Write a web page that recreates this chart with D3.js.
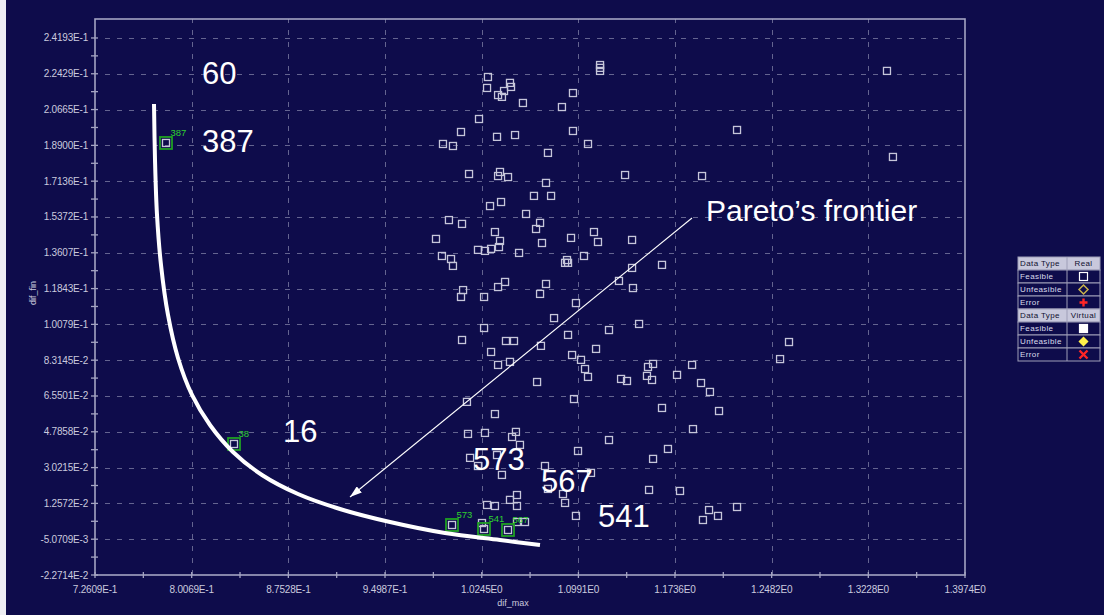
<!DOCTYPE html>
<html>
<head>
<meta charset="utf-8">
<script src="https://cdn.jsdelivr.net/npm/d3@7"></script>
<style>
  html, body { margin: 0; padding: 0; background: #0e0c4b; overflow: hidden; }
  svg { display: block; }
</style>
</head>
<body>
<svg id="chart" width="1104" height="615"></svg>
<script>
// ---- axis tick labels (values are parsed from the labels) ----
const xTickLabels = ["7.2609E-1", "8.0069E-1", "8.7528E-1", "9.4987E-1", "1.0245E0",
                     "1.0991E0", "1.1736E0", "1.2482E0", "1.3228E0", "1.3974E0"];
const yTickLabels = ["-2.2714E-2", "-5.0709E-3", "1.2572E-2", "3.0215E-2", "4.7858E-2",
                     "6.5501E-2", "8.3145E-2", "1.0079E-1", "1.1843E-1", "1.3607E-1",
                     "1.5372E-1", "1.7136E-1", "1.8900E-1", "2.0665E-1", "2.2429E-1", "2.4193E-1"];
const xTitle = "dif_max";
const yTitle = "dif_fin";

// ---- feasible design points (dif_max, dif_fin) ----
const feasibleX = [
  1.3372, 1.3418, 1.1158, 1.1158, 1.1158, 1.2215, 1.0293, 1.0286, 1.0463, 1.0471,
  1.0417, 1.0371, 1.0401, 1.0563, 1.0949, 1.0864, 1.0224, 1.0085, 1.0363, 1.0502,
  1.0949, 0.9946, 1.0023, 1.1065, 1.0756, 1.0147, 1.0386, 1.0371, 1.0448, 1.0741,
  1.0648, 1.0780, 1.0309, 1.0394, 1.0587, 0.9992, 1.0093, 1.0695, 1.0664, 1.0347,
  1.0386, 1.0710, 1.0934, 1.1111, 1.1142, 0.9892, 1.0216, 1.0270, 1.0317, 1.0378,
  1.0533, 0.9938, 1.0008, 1.1034, 1.0903, 1.1351, 1.1945, 1.0888, 1.0911, 1.1405,
  1.1636, 1.1304, 1.1412, 1.0972, 1.1459, 1.1227, 1.0911, 1.1127, 1.2616, 1.2547,
  1.0942, 1.1011, 1.1042, 1.1065, 1.1528, 1.1567, 1.1520, 1.1559, 1.1320, 1.1366,
  1.1868, 1.1752, 1.1937, 1.2006, 1.2076, 1.0957, 1.1636, 1.1875, 1.1227, 1.1682,
  1.1567, 1.1088, 1.1536, 1.1775, 1.1952, 1.1999, 1.2068, 1.2215, 1.0023, 1.0101,
  1.0085, 1.0263, 1.0371, 1.0425, 1.0741, 1.0695, 1.0263, 1.0093, 1.0432, 1.0494,
  1.0317, 1.0702, 1.0803, 1.0371, 1.0463, 1.0672, 1.0131, 1.0347, 1.0270, 1.0139,
  1.0479, 1.0509, 1.0540, 1.0363, 1.0155, 1.0216, 1.0401, 1.0733, 1.0756, 1.0286,
  1.0347, 1.0463, 1.0517, 1.0517, 1.0872, 1.0888, 1.0972, 1.0247, 1.0517, 1.0579,
  1.0988, 1.1405
];
const feasibleY = [
  0.2257, 0.1833, 0.2286, 0.2272, 0.2257, 0.1966, 0.2227, 0.2173, 0.2198, 0.2178,
  0.2158, 0.2138, 0.2129, 0.2099, 0.2148, 0.2079, 0.2020, 0.1956, 0.1932, 0.1941,
  0.1961, 0.1897, 0.1887, 0.1897, 0.1853, 0.1749, 0.1759, 0.1739, 0.1734, 0.1705,
  0.1641, 0.1641, 0.1591, 0.1611, 0.1552, 0.1522, 0.1503, 0.1508, 0.1478, 0.1463,
  0.1419, 0.1409, 0.1434, 0.1463, 0.1414, 0.1429, 0.1375, 0.1370, 0.1380, 0.1389,
  0.1360, 0.1345, 0.1330, 0.1345, 0.1325, 0.1744, 0.1739, 0.1311, 0.1311, 0.1286,
  0.1301, 0.1222, 0.1187, 0.1113, 0.1010, 0.0980, 0.0956, 0.0887, 0.0921, 0.0837,
  0.0857, 0.0833, 0.0788, 0.0749, 0.0798, 0.0813, 0.0754, 0.0734, 0.0739, 0.0729,
  0.0808, 0.0759, 0.0719, 0.0675, 0.0581, 0.0640, 0.0596, 0.0492, 0.0438, 0.0394,
  0.0345, 0.0276, 0.0192, 0.0187, 0.0044, 0.0093, 0.0064, 0.0108, 0.1296, 0.1177,
  0.1143, 0.1143, 0.1192, 0.1217, 0.1207, 0.1158, 0.0990, 0.0931, 0.0926, 0.0926,
  0.0872, 0.0902, 0.1039, 0.0808, 0.0823, 0.0724, 0.0626, 0.0566, 0.0473, 0.0468,
  0.0453, 0.0478, 0.0414, 0.0364, 0.0350, 0.0310, 0.0266, 0.0310, 0.0197, 0.0118,
  0.0113, 0.0143, 0.0167, 0.0113, 0.0172, 0.0128, 0.0064, 0.0029, 0.0034, 0.0034,
  0.0384, 0.1424
];

// ---- selected (non-dominated) designs with their ids ----
const selectedIds = ["387", "38", "573", "541", "567"];
const selectedX   = [0.78088, 0.83335, 1.00156, 1.02625, 1.04477];
const selectedY   = [0.19019, 0.04185, 0.00193, -0.00004, -0.00053];

// ---- hand-drawn Pareto frontier ----
const frontierX = [0.77162, 0.77239, 0.77393, 0.77702, 0.78242, 0.79013, 0.80094, 0.81483,
                   0.83257, 0.85495, 0.88273, 0.91514, 0.95372, 0.99616, 1.03860, 1.06946];
const frontierY = [0.20941, 0.18181, 0.15471, 0.13006, 0.10542, 0.08423, 0.06600, 0.05121,
                   0.03791, 0.02657, 0.01721, 0.00982, 0.00341, -0.00201, -0.00546, -0.00793];

// ---- annotations ----
const noteText = ["60", "387", "16", "573", "567", "541"];
const noteX    = [0.80865, 0.80865, 0.87115, 1.01776, 1.07023, 1.11421];
const noteY    = [0.21926, 0.18575, 0.04283, 0.02903, 0.01819, 0.00094];
const frontierLabel  = "Pareto\u2019s frontier";
const frontierLabelX = 1.19755;
const frontierLabelY = 0.15175;
const arrowX = [1.18675, 0.92285];
const arrowY = [0.15323, 0.01573];

// ---- legend ----
const legendGroups = ["Real", "Virtual"];
const legendStates = ["Feasible", "Unfeasible", "Error"];

// =====================================================================
const W = 1104, H = 615;
const FONT = "'Liberation Sans', Arial, Helvetica, sans-serif";
const BG = "#0e0c4b";
const AXIS = "#a4a4c2";
const TEXT = "#cacade";

const svg = d3.select("#chart");
svg.append("rect").attr("width", W).attr("height", H).attr("fill", BG);
svg.append("rect").attr("width", 6).attr("height", H).attr("fill", "#eeeef3");

const xTickValues = xTickLabels.map(Number);
const yTickValues = yTickLabels.map(Number);
const yStep = yTickValues[1] - yTickValues[0];

const x = d3.scaleLinear()
  .domain([xTickValues[0], xTickValues[xTickValues.length - 1]])
  .range([95, 965]);
const y = d3.scaleLinear()
  .domain([yTickValues[0], yTickValues[yTickValues.length - 1] + yStep * 0.53])
  .range([575, 19]);

const [x0, x1] = x.range();
const [y0, y1] = y.range();

// grid
const grid = svg.append("g")
  .attr("stroke", "#646490").attr("stroke-width", 1).attr("stroke-dasharray", "5,7");
grid.selectAll("line.v").data(xTickValues.slice(1, -1)).join("line")
  .attr("x1", d => Math.round(x(d)) + 0.5).attr("x2", d => Math.round(x(d)) + 0.5)
  .attr("y1", y0).attr("y2", y1);
grid.selectAll("line.h").data(yTickValues.slice(1)).join("line")
  .attr("y1", d => Math.round(y(d)) + 0.5).attr("y2", d => Math.round(y(d)) + 0.5)
  .attr("x1", x0 + 10).attr("x2", x1);

// frame
svg.append("rect")
  .attr("x", x0).attr("y", y1).attr("width", x1 - x0).attr("height", y0 - y1)
  .attr("fill", "none").attr("stroke", AXIS).attr("stroke-width", 1.6);

// ticks (major + minor), crossing the axis lines
const xMinor = xTickValues.slice(0, -1).map((d, i) => (d + xTickValues[i + 1]) / 2);
const yMinor = yTickValues.slice(0, -1).map((d, i) => (d + yTickValues[i + 1]) / 2);
const ticks = svg.append("g").attr("stroke", AXIS).attr("stroke-width", 1.3);
ticks.selectAll("line.xt").data(xTickValues.concat(xMinor)).join("line")
  .attr("x1", d => x(d)).attr("x2", d => x(d)).attr("y1", y0 - 3).attr("y2", y0 + 3);
ticks.selectAll("line.yt").data(yTickValues.concat(yMinor)).join("line")
  .attr("y1", d => y(d)).attr("y2", d => y(d)).attr("x1", x0 - 4).attr("x2", x0 + 3);

// tick labels
svg.append("g").selectAll("text").data(xTickValues).join("text")
  .attr("x", d => x(d)).attr("y", y0 + 18)
  .attr("text-anchor", "middle")
  .attr("font-family", FONT).attr("font-size", 10).attr("letter-spacing", -0.2)
  .attr("fill", TEXT)
  .text((d, i) => xTickLabels[i]);
svg.append("g").selectAll("text").data(yTickValues).join("text")
  .attr("x", x0 - 7).attr("y", d => y(d)).attr("dy", "0.35em")
  .attr("text-anchor", "end")
  .attr("font-family", FONT).attr("font-size", 10).attr("letter-spacing", -0.2)
  .attr("fill", TEXT)
  .text((d, i) => yTickLabels[i]);

// axis titles
svg.append("text").attr("x", 513).attr("y", 606).attr("text-anchor", "middle")
  .attr("font-family", FONT).attr("font-size", 9).attr("fill", TEXT).text(xTitle);
svg.append("text").attr("transform", "translate(36,293) rotate(-90)").attr("text-anchor", "middle")
  .attr("font-family", FONT).attr("font-size", 9).attr("fill", TEXT).text(yTitle);

// design points
const pts = feasibleX.map((d, i) => ({ x: d, y: feasibleY[i] }));
const sel = selectedIds.map((id, i) => ({ id, x: selectedX[i], y: selectedY[i] }));
const S = 7;
svg.append("g").selectAll("rect").data(pts.concat(sel)).join("rect")
  .attr("x", d => x(d.x) - S / 2).attr("y", d => y(d.y) - S / 2)
  .attr("width", S).attr("height", S)
  .attr("fill", "none").attr("stroke", "#c6c6da").attr("stroke-width", 1.3);

// highlighted designs
const hl = svg.append("g");
hl.selectAll("rect").data(sel).join("rect")
  .attr("x", d => x(d.x) - 6).attr("y", d => y(d.y) - 6)
  .attr("width", 12).attr("height", 12)
  .attr("fill", "none").attr("stroke", "#1f9f24").attr("stroke-width", 1.8);
hl.selectAll("text").data(sel).join("text")
  .attr("x", d => x(d.x) + 4.5).attr("y", d => y(d.y) - 6.5)
  .attr("font-family", FONT).attr("font-size", 9.5).attr("fill", "#2fd02f")
  .text(d => d.id);

// Pareto frontier curve
const frontier = frontierX.map((d, i) => [x(d), y(frontierY[i])]);
svg.append("path")
  .attr("d", d3.line().curve(d3.curveCatmullRom.alpha(0.5))(frontier))
  .attr("fill", "none").attr("stroke", "#ffffff").attr("stroke-width", 4);

// arrow pointing at the frontier
const defs = svg.append("defs");
defs.append("marker").attr("id", "head")
  .attr("viewBox", "0 0 12 8").attr("refX", 12).attr("refY", 4)
  .attr("markerWidth", 12).attr("markerHeight", 8)
  .attr("markerUnits", "userSpaceOnUse").attr("orient", "auto")
  .append("path").attr("d", "M0,0 L12,4 L0,8 Z").attr("fill", "#ffffff");
svg.append("line")
  .attr("x1", x(arrowX[0])).attr("y1", y(arrowY[0]))
  .attr("x2", x(arrowX[1])).attr("y2", y(arrowY[1]))
  .attr("stroke", "#ffffff").attr("stroke-width", 1.1)
  .attr("marker-end", "url(#head)");

// annotations
svg.append("g").selectAll("text").data(noteText).join("text")
  .attr("x", (d, i) => x(noteX[i])).attr("y", (d, i) => y(noteY[i]))
  .attr("font-family", FONT).attr("font-size", 31).attr("fill", "#ffffff")
  .text(d => d);
svg.append("text")
  .attr("x", x(frontierLabelX)).attr("y", y(frontierLabelY))
  .attr("font-family", FONT).attr("font-size", 30).attr("fill", "#ffffff")
  .text(frontierLabel);

// legend table
const L = { x: 1018, y: 257, w: 82, split: 49, rowH: 13 };
const rows = [];
legendGroups.forEach(g => {
  rows.push({ header: true, label: "Data Type", kind: g });
  legendStates.forEach(s => rows.push({ header: false, label: s, group: g, state: s }));
});
const lg = svg.append("g");
const rowG = lg.selectAll("g").data(rows).join("g")
  .attr("transform", (d, i) => `translate(${L.x},${L.y + i * L.rowH})`);
rowG.append("rect").attr("width", L.w).attr("height", L.rowH)
  .attr("fill", d => d.header ? "#c8c8dc" : BG)
  .attr("stroke", "#9e9eb8").attr("stroke-width", 1);
rowG.append("line").attr("x1", L.split).attr("x2", L.split).attr("y1", 0).attr("y2", L.rowH)
  .attr("stroke", "#9e9eb8");
rowG.append("text").attr("x", 2).attr("y", L.rowH / 2).attr("dy", "0.35em")
  .attr("font-family", FONT).attr("font-size", 8).attr("letter-spacing", 0.4)
  .attr("fill", d => d.header ? "#101030" : "#dcdcec")
  .text(d => d.label);
rowG.filter(d => d.header).append("text")
  .attr("x", L.split + (L.w - L.split) / 2).attr("y", L.rowH / 2).attr("dy", "0.35em")
  .attr("text-anchor", "middle")
  .attr("font-family", FONT).attr("font-size", 8).attr("letter-spacing", 0.4)
  .attr("fill", "#101030").text(d => d.kind);

const cx = L.split + (L.w - L.split) / 2, cy = L.rowH / 2;
rowG.filter(d => !d.header).each(function (d) {
  const g = d3.select(this);
  const real = d.group === "Real";
  if (d.state === "Feasible") {
    g.append("rect").attr("x", cx - 4).attr("y", cy - 4).attr("width", 8).attr("height", 8)
      .attr("fill", real ? "none" : "#ffffff").attr("stroke", "#ffffff").attr("stroke-width", 1.2);
  } else if (d.state === "Unfeasible") {
    const r = real ? 4.5 : 4;
    g.append("path").attr("d", `M${cx},${cy - r} L${cx + r},${cy} L${cx},${cy + r} L${cx - r},${cy} Z`)
      .attr("fill", real ? "none" : "#fff04a")
      .attr("stroke", real ? "#c9b24a" : "#fff04a").attr("stroke-width", 1.5);
  } else {
    const r = 4;
    const dd = real
      ? `M${cx - r},${cy} L${cx + r},${cy} M${cx},${cy - r} L${cx},${cy + r}`
      : `M${cx - r},${cy - r} L${cx + r},${cy + r} M${cx + r},${cy - r} L${cx - r},${cy + r}`;
    g.append("path").attr("d", dd).attr("stroke", "#ff2626").attr("stroke-width", 2.4);
  }
});
</script>
</body>
</html>
